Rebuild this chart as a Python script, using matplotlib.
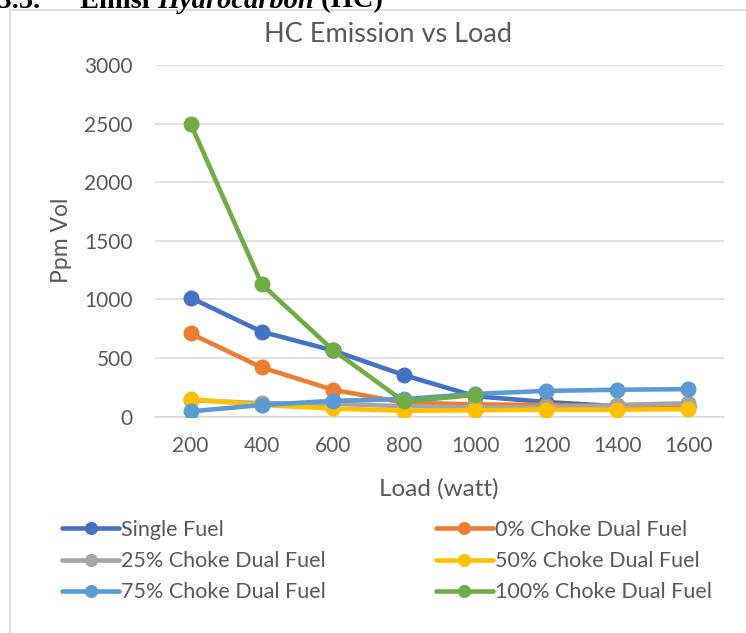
import matplotlib
matplotlib.use("Agg")
import matplotlib.pyplot as plt
import numpy as np
from matplotlib.patches import Rectangle

loads = ["200", "400", "600", "800", "1000", "1200", "1400", "1600"]
single_fuel = [1015, 725, 565, 355, 175, 125, 90, 95]
choke_0 = [710, 420, 230, 120, 105, 100, 85, 85]
choke_25 = [140, 115, 110, 90, 80, 80, 100, 115]
choke_50 = [150, 100, 70, 50, 55, 60, 60, 65]
choke_75 = [45, 100, 135, 150, 195, 220, 230, 235]
choke_100 = [2500, 1130, 570, 130, 185, np.nan, np.nan, np.nan]

series = [
    ("Single Fuel", single_fuel, "#4472C4"),
    ("0% Choke Dual Fuel", choke_0, "#ED7D31"),
    ("25% Choke Dual Fuel", choke_25, "#A5A5A5"),
    ("50% Choke Dual Fuel", choke_50, "#FFC000"),
    ("75% Choke Dual Fuel", choke_75, "#5B9BD5"),
    ("100% Choke Dual Fuel", choke_100, "#70AD47"),
]

W, H = 746, 633
fig = plt.figure(figsize=(W / 100, H / 100), dpi=100)
fig.patch.set_facecolor("white")

font = "Lato"
tc = "#595959"

def fx(px):
    return px / W

def fy(py):
    return 1 - py / H

# chart frame
fig.patches.append(Rectangle((fx(10), -0.1), 1.2, fy(10) + 0.1, transform=fig.transFigure,
                             fill=False, edgecolor="#D9D9D9", linewidth=1.2))

ax = fig.add_axes([fx(155), fy(416.7), (724 - 155) / W, (416.7 - 65) / H])
x = np.arange(len(loads))
handles = []
for name, vals, col in series:
    ln, = ax.plot(x, vals, color=col, linewidth=3.3, marker="o", markersize=10.5, label=name,
                  solid_capstyle="round", solid_joinstyle="round", zorder=3)
    handles.append(ln)

ax.set_xlim(-0.5, len(loads) - 0.5)
ax.set_ylim(0, 3000)
ax.set_yticks(np.arange(0, 3001, 500))
ax.set_xticks(x)
ax.set_xticklabels(loads)
ax.grid(axis="y", color="#D9D9D9", linewidth=1.1)
ax.set_axisbelow(True)
for s in ["top", "right", "left"]:
    ax.spines[s].set_visible(False)
ax.spines["bottom"].set_color("#D9D9D9")
ax.spines["bottom"].set_linewidth(1.1)
ax.tick_params(length=0, labelsize=15, colors=tc)
ax.tick_params(axis="x", pad=14)
ax.tick_params(axis="y", pad=16)
for lab in ax.get_xticklabels() + ax.get_yticklabels():
    lab.set_fontfamily(font)

fig.text(fx(388), fy(34), "HC Emission vs Load", fontsize=19.5, color=tc, fontfamily=font,
         ha="center", va="center")
fig.text(fx(439), fy(489), "Load (watt)", fontsize=17.5, color=tc, fontfamily=font,
         ha="center", va="center")
fig.text(fx(61), fy(240), "Ppm Vol", fontsize=16.5, color=tc, fontfamily=font,
         ha="center", va="center", rotation=90)

# row-major order for a 2-column legend (matplotlib fills columns first)
col_major = [0, 2, 4, 1, 3, 5]
leg_handles = [handles[i] for i in col_major]
leg_labels = [series[i][0] for i in col_major]
leg = fig.legend(leg_handles, leg_labels, loc="upper left", bbox_to_anchor=(fx(62), fy(520)), ncol=2,
                 frameon=False, handlelength=2.65, handletextpad=0.1, columnspacing=5.1,
                 labelspacing=0.52, prop={"family": font, "size": 15.5}, labelcolor=tc,
                 borderaxespad=0, borderpad=0, markerscale=0.8)

# header text at the very top, clipped by the picture edge as in the reference
fig.canvas.draw()
r = fig.canvas.get_renderer()
yb = fy(7.5)
hs = 20.5
t0 = fig.text(fx(41), yb, "4.3.5.", fontfamily="Liberation Serif", fontweight="bold",
              fontsize=hs, color="black", va="baseline", ha="right")
cur = 80
for txt, style in [("Emisi ", "normal"), ("Hydrocarbon", "italic"), (" (HC)", "normal")]:
    t = fig.text(fx(cur), yb, txt, fontfamily="Liberation Serif", fontweight="bold", fontstyle=style,
                 fontsize=hs, color="black", va="baseline", ha="left")
    cur += t.get_window_extent(r).width

fig.savefig("out.png", dpi=100)
